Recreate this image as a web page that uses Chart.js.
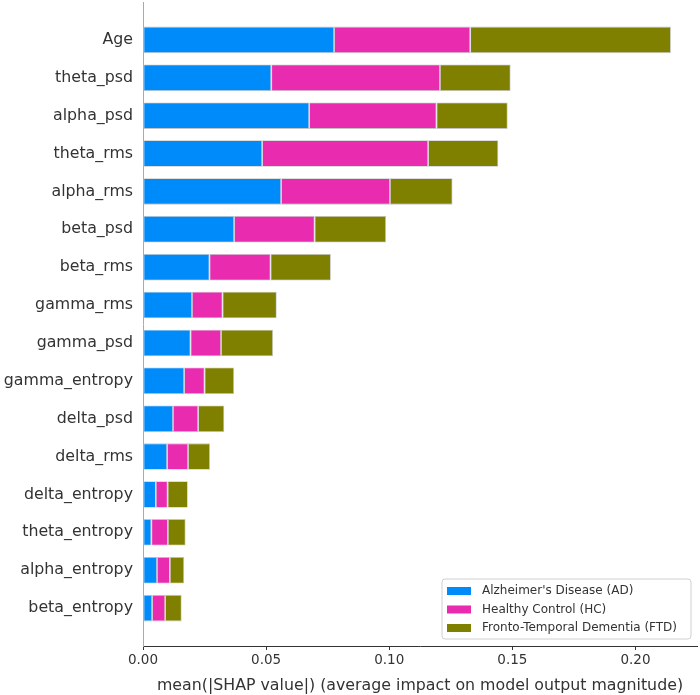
<!DOCTYPE html>
<html>
<head>
<meta charset="utf-8">
<script src="https://cdn.jsdelivr.net/npm/chart.js@4.4.0/dist/chart.umd.min.js"></script>
<style>
  html, body { margin: 0; padding: 0; background: #fff; }
  #wrap { width: 700px; height: 695px; position: relative; }
</style>
</head>
<body>
<div id="wrap"><canvas id="shapChart"></canvas></div>
<script>
// mean(|SHAP|) per feature, one array per class
var features = ['Age', 'theta_psd', 'alpha_psd', 'theta_rms', 'alpha_rms', 'beta_psd', 'beta_rms',
  'gamma_rms', 'gamma_psd', 'gamma_entropy', 'delta_psd', 'delta_rms', 'delta_entropy',
  'theta_entropy', 'alpha_entropy', 'beta_entropy'];
var adValues = [0.0776, 0.0521, 0.0675, 0.0484, 0.0561, 0.0370, 0.0270, 0.0199, 0.0193, 0.0167, 0.0122, 0.0098, 0.0052, 0.0034, 0.0057, 0.0037];
var hcValues = [0.0553, 0.0685, 0.0517, 0.0674, 0.0442, 0.0327, 0.0248, 0.0124, 0.0124, 0.0083, 0.0102, 0.0085, 0.0048, 0.0067, 0.0052, 0.0053];
var ftdValues = [0.0815, 0.0287, 0.0289, 0.0285, 0.0254, 0.0290, 0.0245, 0.0220, 0.0211, 0.0120, 0.0106, 0.0089, 0.0082, 0.0072, 0.0058, 0.0067];
var classNames = ["Alzheimer's Disease (AD)", 'Healthy Control (HC)', 'Fronto-Temporal Dementia (FTD)'];
var xTicks = [0, 0.05, 0.10, 0.15, 0.20];
var xMax = 0.225;

(function() {
  if (typeof Chart === 'undefined') return;

  Chart.defaults.font.family = "'DejaVu Sans', sans-serif";
  Chart.defaults.color = '#333333';

  // blank slot above and below, like matplotlib's ylim(-1, n)
  function pad(arr, blank) { return [blank].concat(arr, [blank]); }

  var colors = ['#008bfb', '#e92bb0', '#808000'];

  // legend box drawn inside the plot, lower right
  var boxLegend = {
    id: 'boxLegend',
    afterDraw: function(chart) {
      var ctx = chart.ctx, area = chart.chartArea;
      var w = 249, h = 60;
      var x0 = area.right - 6 - w, y0 = area.bottom - 7 - h;
      ctx.save();
      ctx.beginPath();
      ctx.roundRect(x0, y0, w, h, 3);
      ctx.fillStyle = 'rgba(255,255,255,0.85)';
      ctx.fill();
      ctx.strokeStyle = '#d0d0d0';
      ctx.lineWidth = 1;
      ctx.stroke();
      ctx.font = "12px 'DejaVu Sans', sans-serif";
      ctx.textBaseline = 'middle';
      chart.data.datasets.forEach(function(ds, i) {
        var cy = y0 + 12 + i * 18.5;
        ctx.fillStyle = ds.backgroundColor;
        ctx.fillRect(x0 + 5, cy - 4, 24, 8);
        ctx.fillStyle = '#333333';
        ctx.fillText(ds.label, x0 + 40, cy);
      });
      ctx.restore();
    }
  };

  var series = [adValues, hcValues, ftdValues];
  var el = document.getElementById('shapChart');
  new Chart(el.getContext('2d'), {
    type: 'bar',
    data: {
      labels: pad(features, ''),
      datasets: series.map(function(vals, i) {
        return {
          label: classNames[i],
          data: pad(vals, null),
          backgroundColor: colors[i],
          borderColor: 'rgba(190,190,190,0.9)',
          borderWidth: 0.8,
          borderSkipped: false,
          barPercentage: 0.7,
          categoryPercentage: 1
        };
      })
    },
    options: {
      indexAxis: 'y',
      responsive: true,
      maintainAspectRatio: false,
      animation: false,
      layout: { padding: { top: 2, right: 3, left: 0, bottom: 0 } },
      plugins: {
        legend: { display: false },
        tooltip: { enabled: false }
      },
      scales: {
        x: {
          type: 'linear',
          stacked: true,
          min: 0,
          max: xMax,
          afterBuildTicks: function(scale) {
            scale.ticks = xTicks.map(function(v) { return { value: v }; });
          },
          afterFit: function(scale) {
            scale.height = 49;
            scale.paddingLeft = 0;
            scale.paddingRight = 0;
          },
          grid: { display: true, drawOnChartArea: false, drawTicks: true, tickLength: 4, color: '#333333' },
          border: { display: true, color: '#333333', width: 1 },
          ticks: {
            padding: 2,
            color: '#333333',
            font: { size: 13.5 },
            callback: function(v) { return v.toFixed(2); }
          },
          title: {
            display: true,
            text: 'mean(|SHAP value|) (average impact on model output magnitude)',
            color: '#333333',
            font: { size: 15.8 },
            padding: { top: 2, bottom: 0 }
          }
        },
        y: {
          stacked: true,
          offset: false,
          afterFit: function(scale) {
            scale.width = 143;
            scale.paddingTop = 0;
            scale.paddingBottom = 0;
          },
          grid: { display: false, drawTicks: false },
          border: { display: true, color: '#aaaaaa', width: 1 },
          ticks: {
            padding: 10,
            color: '#333333',
            autoSkip: false,
            font: { size: 15.8 }
          }
        }
      }
    },
    plugins: [boxLegend]
  });
})();
</script>
</body>
</html>
